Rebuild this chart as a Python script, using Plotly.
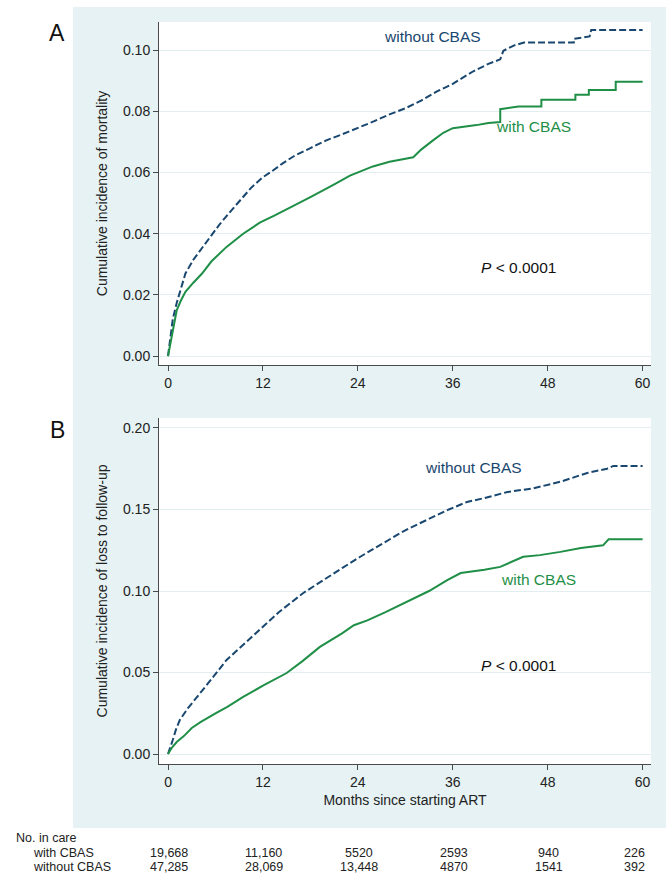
import plotly.graph_objects as go

# ---------------- data ----------------
months_ticks = [0, 12, 24, 36, 48, 60]

# Panel A: cumulative incidence of mortality
mort_without_m = [0, 0.3, 0.6, 1.1, 1.6, 2.2, 3.2, 4.2, 5.3, 6.5, 7.8, 9.1, 10.5, 12.0, 12.9, 14.5,
                  16, 18, 20, 22, 24.3, 26, 28, 30, 32, 34, 36, 38.6, 40.5, 42.0, 42.4, 43.7, 45,
                  51.3, 51.3, 53.3, 53.5, 60]
mort_without_v = [0, 0.006, 0.012, 0.0174, 0.022, 0.027, 0.0315, 0.035, 0.039, 0.043, 0.047, 0.051,
                  0.055, 0.0585, 0.060, 0.063, 0.0655, 0.068, 0.0705, 0.0725, 0.0748, 0.0767, 0.079,
                  0.081, 0.0835, 0.0865, 0.089, 0.0931, 0.0955, 0.097, 0.0998, 0.1015, 0.1025,
                  0.1025, 0.1037, 0.1045, 0.1066, 0.1066]

mort_with_m = [0, 0.3, 0.6, 1.1, 1.6, 2.2, 3.2, 4.3, 5.5, 7.4, 9.5, 11.6, 13.5, 15.8, 18, 20.9, 23,
               25.9, 28, 31, 32, 33.5, 34.8, 36, 37.7, 39, 40.5, 42, 42, 43, 44.3, 47.2, 47.2,
               51.5, 51.5, 53.2, 53.2, 56.6, 56.6, 60]
mort_with_v = [0, 0.004, 0.008, 0.015, 0.018, 0.021, 0.024, 0.027, 0.031, 0.0357, 0.040, 0.0436,
               0.046, 0.049, 0.052, 0.056, 0.059, 0.062, 0.0635, 0.065, 0.0675, 0.0705, 0.073, 0.0745,
               0.075, 0.0755, 0.0762, 0.0765, 0.0807, 0.081, 0.0816, 0.0816, 0.0838, 0.0838, 0.0854,
               0.0854, 0.0870, 0.0870, 0.0897, 0.0897]

# Panel B: cumulative incidence of loss to follow-up
ltfu_without_m = [0, 0.3, 0.6, 1.0, 1.5, 2.5, 4.1, 5.5, 7.4, 9.5, 11.6, 14, 17.1, 20, 22, 24.3, 27,
                  29.4, 30.6, 33.5, 35.5, 37.8, 40, 42.9, 46.2, 49.6, 53, 55.5, 56.3, 60]
ltfu_without_v = [0, 0.004, 0.0086, 0.015, 0.021, 0.028, 0.0374, 0.046, 0.0577, 0.067, 0.076, 0.087,
                  0.0988, 0.108, 0.114, 0.121, 0.129, 0.1356, 0.1387, 0.1454, 0.150, 0.1546, 0.157,
                  0.1607, 0.163, 0.167, 0.1724, 0.175, 0.1767, 0.1767]

ltfu_with_m = [0, 0.5, 1.1, 2, 3, 4.1, 6, 7.5, 9.5, 12, 15.0, 17, 19.2, 22, 23.5, 25.2, 27.5, 29.4,
               30.6, 33, 35.3, 37, 40, 42, 44.9, 47, 49.6, 52.2, 55, 55.7, 60]
ltfu_with_v = [0, 0.004, 0.0074, 0.011, 0.016, 0.0196, 0.025, 0.029, 0.035, 0.042, 0.0497, 0.057,
               0.0657, 0.074, 0.079, 0.082, 0.087, 0.0914, 0.0945, 0.100, 0.1067, 0.111, 0.113,
               0.1148, 0.121, 0.122, 0.124, 0.1264, 0.128, 0.1317, 0.1317]

# Numbers in care
n_with = ["19,668", "11,160", "5520", "2593", "940", "226"]
n_without = ["47,285", "28,069", "13,448", "4870", "1541", "392"]

# ---------------- style ----------------
NAVY = "#1a476f"
GREEN = "#1f8f47"
TEAL = "#e6f2f3"
GRID = "#e2eef0"
AXIS = "#4a4a4a"
FONT = "Arial, Liberation Sans, sans-serif"
W, H = 666, 875

def px_x(p):
    return p / W

def px_y(p):
    return 1 - p / H

fig = go.Figure()

def add_pair(m1, v1, m2, v2, xa, ya):
    fig.add_trace(go.Scatter(x=m1, y=v1, mode="lines", xaxis=xa, yaxis=ya,
                             line=dict(color=NAVY, width=2, dash="7px,3px"),
                             showlegend=False, hoverinfo="skip"))
    fig.add_trace(go.Scatter(x=m2, y=v2, mode="lines", xaxis=xa, yaxis=ya,
                             line=dict(color=GREEN, width=2),
                             showlegend=False, hoverinfo="skip"))

add_pair(mort_without_m, mort_without_v, mort_with_m, mort_with_v, "x", "y")
add_pair(ltfu_without_m, ltfu_without_v, ltfu_with_m, ltfu_with_v, "x2", "y2")

xdom = [px_x(159), px_x(651)]
common_x = dict(range=[-1.14, 61.06], tickvals=months_ticks, showgrid=False, zeroline=False,
                showline=True, linecolor=AXIS, linewidth=1, ticks="outside", ticklen=5,
                tickcolor=AXIS, tickfont=dict(family=FONT, size=14, color="#222"),
                domain=xdom, fixedrange=True)
common_y = dict(showgrid=True, gridcolor=GRID, gridwidth=1, zeroline=False, showline=True,
                linecolor=AXIS, linewidth=1, ticks="outside", ticklen=5, tickcolor=AXIS,
                tickfont=dict(family=FONT, size=14, color="#222"), fixedrange=True)

fig.update_layout(
    width=W, height=H,
    margin=dict(l=0, r=0, t=0, b=0),
    paper_bgcolor="white",
    plot_bgcolor="rgba(0,0,0,0)",
    font=dict(family=FONT, color="#222"),
    xaxis=dict(**common_x, anchor="y"),
    yaxis=dict(**common_y, anchor="x", domain=[px_y(365), px_y(22)], range=[-0.0029, 0.1092],
               tickvals=[0, 0.02, 0.04, 0.06, 0.08, 0.10], tickformat=".2f",
               title=dict(text="Cumulative incidence of mortality", standoff=12,
                          font=dict(family=FONT, size=14, color="#222"))),
    xaxis2=dict(**common_x, anchor="y2",
                title=dict(text="Months since starting ART", standoff=6,
                           font=dict(family=FONT, size=14, color="#222"))),
    yaxis2=dict(**common_y, anchor="x2", domain=[px_y(764), px_y(418)], range=[-0.0061, 0.2061],
                tickvals=[0, 0.05, 0.10, 0.15, 0.20], tickformat=".2f",
                title=dict(text="Cumulative incidence of loss to follow-up", standoff=12,
                           font=dict(family=FONT, size=14, color="#222"))),
)

# background panel and white plot regions
fig.add_shape(type="rect", xref="paper", yref="paper", x0=px_x(73), x1=1, y0=px_y(828), y1=px_y(7),
              fillcolor=TEAL, line=dict(width=0), layer="below")
for xr, yr in (("x domain", "y domain"), ("x2 domain", "y2 domain")):
    fig.add_shape(type="rect", xref=xr, yref=yr, x0=0, x1=1, y0=0, y1=1,
                  fillcolor="white", line=dict(width=0), layer="below")

ann = []

def note(text, x, y, size, color, xanchor="center", xref="paper", xshift=0):
    ann.append(dict(text=text, x=x, y=px_y(y), xref=xref, yref="paper",
                    xanchor=xanchor, yanchor="middle", xshift=xshift, showarrow=False,
                    font=dict(family=FONT, size=size, color=color)))

# panel letters
note("A", px_x(57), 33, 23, "#111")
note("B", px_x(57), 430, 23, "#111")

# in-plot labels
lab = 15.5
note("without CBAS", px_x(432), 37, lab, NAVY)
note("with CBAS", px_x(533), 127, lab, GREEN)
note("<i>P</i> &lt; 0.0001", px_x(518), 267, lab, "#111")
note("without CBAS", px_x(473), 468, lab, NAVY)
note("with CBAS", px_x(538), 579, lab, GREEN)
note("<i>P</i> &lt; 0.0001", px_x(518), 665, lab, "#111")

# number at risk table
tsz = 12.5
note("No. in care", px_x(14), 838, tsz, "#222", xanchor="left")
note("with CBAS", px_x(31), 853, tsz, "#222", xanchor="left")
note("without CBAS", px_x(31), 867, tsz, "#222", xanchor="left")
for i, m in enumerate(months_ticks):
    last = i == len(months_ticks) - 1
    for txt, yy in ((n_with[i], 853), (n_without[i], 867)):
        note(txt, m, yy, tsz, "#222", xanchor="right" if last else "center",
             xref="x2", xshift=4 if last else 1)

fig.update_layout(annotations=ann)
fig.write_html("out.html", config={"displayModeBar": False},
               post_script="document.body.style.margin='0';document.body.style.overflow='hidden';")
